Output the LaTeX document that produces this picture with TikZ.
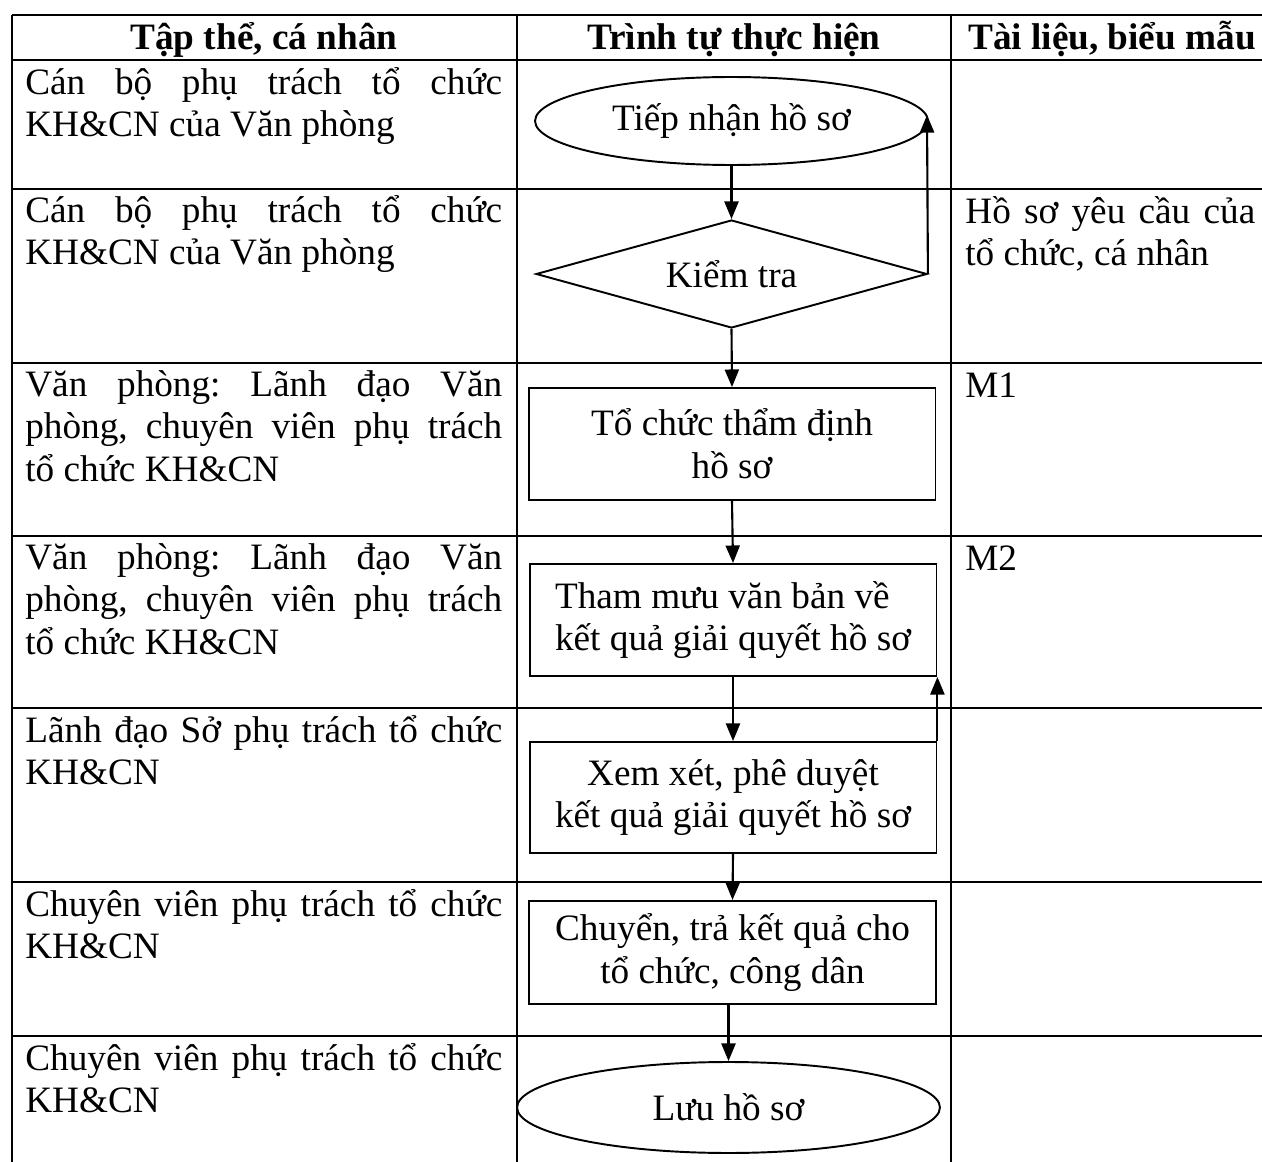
\documentclass[tikz,border=0pt]{standalone}
\usepackage{fontspec}
\setmainfont{Liberation Serif}
\usetikzlibrary{shapes.geometric,arrows.meta}
\setlength{\parindent}{0pt}
\frenchspacing
\newcommand{\bodysize}{\fontsize{21.2}{24.3}\selectfont}

\begin{document}
\begin{tikzpicture}[x=0.02cm,y=-0.02cm,
  rule/.style={line width=1.6pt},
  head/.style={anchor=base,inner sep=0,font=\bodysize\bfseries},
  cell/.style={anchor=north west,inner sep=0,text width=9.54cm,align=justify,font=\bodysize},
  doccell/.style={anchor=north west,inner sep=0,text width=5.8cm,align=justify,font=\bodysize},
  procbox/.style={draw,line width=1.1pt,rectangle,inner sep=0,minimum width=8.14cm,align=center,font=\bodysize},
  oval/.style={draw,line width=1.1pt,ellipse,inner sep=0,font=\bodysize},
  decision/.style={draw,line width=1.1pt,diamond,aspect=3.6,inner sep=0,font=\bodysize},
  link/.style={line width=1.2pt,-{Triangle[length=10pt,width=8pt]}}]
\useasboundingbox (0,0) rectangle (1262,1162);
\draw[rule] (12,15) -- (1262,15); \draw[rule] (12,60) -- (1262,60);
\draw[rule] (12,189) -- (1262,189); \draw[rule] (12,363) -- (1262,363);
\draw[rule] (12,536) -- (1262,536); \draw[rule] (12,708) -- (1262,708);
\draw[rule] (12,882) -- (1262,882); \draw[rule] (12,1036) -- (1262,1036);
\draw[rule] (12,15) -- (12,1162); \draw[rule] (517,15) -- (517,1162); \draw[rule] (951,15) -- (951,1162);
\node[head] at (264,50) (h1) {Tập thể, cá nhân};
\node[head] at (734,50) (h2) {Trình tự thực hiện};
\node[head] at (1112,50) (h3) {Tài liệu, biểu mẫu};
\node[cell] at (25,64) (c1) {\strut Cán bộ phụ trách tổ chức\linebreak KH\&CN của Văn phòng};
\node[cell] at (25,192) (c2) {\strut Cán bộ phụ trách tổ chức\linebreak KH\&CN của Văn phòng};
\node[cell] at (25,366) (c3) {\strut Văn phòng: Lãnh đạo Văn\linebreak phòng, chuyên viên phụ trách\linebreak tổ chức KH\&CN};
\node[cell] at (25,539) (c4) {\strut Văn phòng: Lãnh đạo Văn\linebreak phòng, chuyên viên phụ trách\linebreak tổ chức KH\&CN};
\node[cell] at (25,712) (c5) {\strut Lãnh đạo Sở phụ trách tổ chức\linebreak KH\&CN};
\node[cell] at (25,886) (c6) {\strut Chuyên viên phụ trách tổ chức\linebreak KH\&CN};
\node[cell] at (25,1040) (c7) {\strut Chuyên viên phụ trách tổ chức\linebreak KH\&CN};
\node[doccell] at (965,193) (d2) {\strut Hồ sơ yêu cầu của\linebreak tổ chức, cá nhân};
\node[doccell] at (965,367) (d3) {\strut M1};
\node[doccell] at (965,540) (d4) {\strut M2};
\node[oval,minimum width=7.86cm,minimum height=1.76cm] at (731.5,121) (tn) {Tiếp nhận hồ sơ};
\node[decision,minimum width=7.82cm,minimum height=2.16cm] at (731.5,274) (kt) {Kiểm tra};
\node[procbox,minimum height=2.24cm] at (732,444) (td) {Tổ chức thẩm định\\hồ sơ};
\node[procbox,minimum height=2.24cm,align=left] at (733,620) (tm) {Tham mưu văn bản về\\kết quả giải quyết hồ sơ};
\node[procbox,minimum height=2.22cm] at (733,797.5) (xx) {Xem xét, phê duyệt\\kết quả giải quyết hồ sơ};
\node[procbox,minimum height=2.06cm] at (732.5,952.5) (ct) {Chuyển, trả kết quả cho\\tổ chức, công dân};
\node[oval,minimum width=8.46cm,minimum height=1.82cm] at (728.5,1107.5) (lu) {Lưu hồ sơ};
\coordinate (back) at (927,115);
\draw[link] (tn.south) -- (kt.north);
\draw[link] (kt.east) -- (back);
\draw[link] (kt.south) -- (td.north);
\draw[link] (td.south) -- (tm.north);
\draw[link] (tm.south) -- (xx.north);
\draw[link] (xx.north east) -- (tm.south east);
\draw[link] (xx.south) -- (ct.north);
\draw[link] (ct.south -| lu.north) -- (lu.north);
\end{tikzpicture}
\end{document}
